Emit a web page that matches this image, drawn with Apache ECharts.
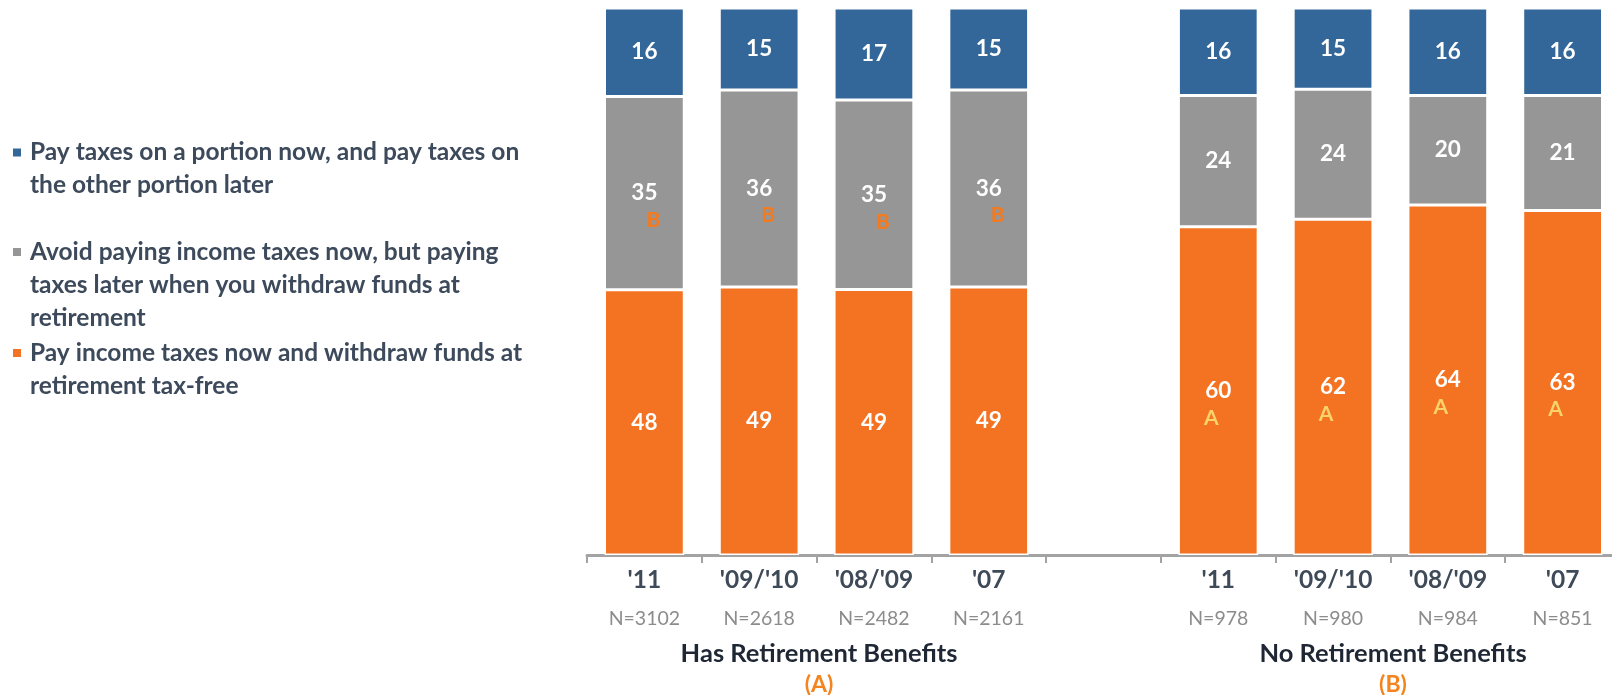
<!DOCTYPE html>
<html>
<head>
<meta charset="utf-8">
<script src="https://cdn.jsdelivr.net/npm/echarts@6/dist/echarts.min.js"></script>
<style>
  html, body { margin: 0; padding: 0; background: #fff; }
  #chart { width: 1612px; height: 695px; }
</style>
</head>
<body>
<div id="chart"></div>
<script>
// Survey years per group; the blank slot separates the two groups
const categories = ["'11", "'09/'10", "'08/'09", "'07", "", "'11", "'09/'10", "'08/'09", "'07"];
const sampleSizes = ['N=3102', 'N=2618', 'N=2482', 'N=2161', '', 'N=978', 'N=980', 'N=984', 'N=851'];
const groupTitles = ['Has Retirement Benefits', 'No Retirement Benefits'];
const groupTags = ['(A)', '(B)'];

const seriesNames = [
  'Pay income taxes now and withdraw funds at retirement tax-free',
  'Avoid paying income taxes now, but paying taxes later when you withdraw funds at retirement',
  'Pay taxes on a portion now, and pay taxes on the other portion later'
];
const legendLines = [
  ['Pay income taxes now and withdraw funds at', 'retirement tax-free'],
  ['Avoid paying income taxes now, but paying', 'taxes later when you withdraw funds at', 'retirement'],
  ['Pay taxes on a portion now, and pay taxes on', 'the other portion later']
];

// Percent of respondents choosing each option
const payNowValues = [48, 49, 49, 49, null, 60, 62, 64, 63];
const deferValues  = [35, 36, 35, 36, null, 24, 24, 20, 21];
const splitValues  = [16, 15, 17, 15, null, 16, 15, 16, 16];

// Significance letters (difference vs. the other group)
const payNowLetters = ['', '', '', '', '', 'A', 'A', 'A', 'A'];
const deferLetters  = ['B', 'B', 'B', 'B', '', '', '', '', ''];
const splitLetters  = ['', '', '', '', '', '', '', '', ''];

const FONT = 'Lato, "Open Sans", sans-serif';
const totals = categories.map((c, i) =>
  splitValues[i] == null ? null : payNowValues[i] + deferValues[i] + splitValues[i]);

function makeSeries(name, values, letters, color, letterColor, letterPad) {
  return {
    name: name,
    type: 'bar',
    stack: 'share',
    barWidth: '69.5%',
    itemStyle: { color: color, borderColor: '#ffffff', borderWidth: 1.5 },
    emphasis: { disabled: true },
    data: values.map((v, i) => v == null ? '-' : {
      value: v / totals[i] * 100,   // 100% stacked share
      raw: v,
      letter: letters[i],
      label: letters[i] ? { offset: [0, 14] } : undefined
    }),
    label: {
      show: true,
      position: 'inside',
      color: '#ffffff',
      textBorderWidth: 0,
      formatter: p => p.data.letter
        ? '{v|' + p.data.raw + '}\n{s|' + p.data.letter + '}'
        : '{v|' + p.data.raw + '}',
      rich: {
        v: { fontFamily: FONT, fontWeight: 'bold', fontSize: 22.5, color: '#ffffff', lineHeight: 26 },
        s: { fontFamily: FONT, fontWeight: 'bold', fontSize: 21, color: letterColor, lineHeight: 28, padding: letterPad }
      }
    }
  };
}

// Legend entries: each wrapped entry is padded with blank lines so that its
// first line sits level with the square marker.
const legendCenters = [156.5, 256, 357];
const LINE_H = 33;
const legendOrder = [2, 1, 0];               // top entry first
const legends = legendOrder.map((k, pos) => {
  const n = legendLines[k].length;
  return {
    data: [{ name: seriesNames[k] }],
    left: 11,
    top: legendCenters[pos] - (2 * n - 1) * LINE_H / 2,
    padding: 0,
    icon: 'rect',
    itemWidth: 10,
    itemHeight: 10,
    selectedMode: false,
    formatter: name => {
      const lines = legendLines[seriesNames.indexOf(name)];
      const blanks = new Array(lines.length - 1).fill('{t| }');
      return blanks.concat(lines.map(l => '{t|' + l + '}')).join('\n');
    },
    textStyle: {
      fontFamily: FONT, fontWeight: 'bold', fontSize: 24.5, color: '#3D4A5B',
      rich: {
        t: { fontFamily: FONT, fontWeight: 'bold', fontSize: 24.5, color: '#3D4A5B', lineHeight: LINE_H, padding: [0, 0, 0, 3] }
      }
    }
  };
});

const chart = echarts.init(document.getElementById('chart'), null, { renderer: 'canvas' });
chart.setOption({
  animation: false,
  backgroundColor: '#ffffff',
  legend: legends,
  grid: { left: 587, top: 8, width: 1033, height: 547, containLabel: false, outerBoundsMode: 'none' },
  xAxis: {
    type: 'category',
    data: categories,
    axisLine: { show: true, lineStyle: { color: '#A3A3A3', width: 3 } },
    axisTick: { show: true, interval: 0, length: 8, lineStyle: { color: '#A3A3A3', width: 2 } },
    axisLabel: {
      interval: 0,
      margin: 6,
      formatter: (v, i) => v ? '{c|' + v + '}\n{n|' + sampleSizes[i] + '}' : '',
      rich: {
        c: { fontFamily: FONT, fontWeight: 'bold', fontSize: 24.5, color: '#3F4A58', lineHeight: 38 },
        n: { fontFamily: FONT, fontSize: 19.5, color: '#8C8C8C', lineHeight: 40 }
      }
    }
  },
  yAxis: { type: 'value', min: 0, max: 100, show: false },
  series: [
    makeSeries(seriesNames[0], payNowValues, payNowLetters, '#F47322', '#FBD36B', [0, 14, 0, 0]),
    makeSeries(seriesNames[1], deferValues, deferLetters, '#969696', '#F47A20', [0, 0, 0, 18]),
    makeSeries(seriesNames[2], splitValues, splitLetters, '#336699', '#ffffff', 0)
  ],
  graphic: [0, 1].map(g => ({
    type: 'group',
    children: [
      {
        type: 'text', x: [819, 1393][g], y: 654,
        style: { text: groupTitles[g], font: 'bold 25.5px ' + FONT, fill: '#1E2733', align: 'center', verticalAlign: 'middle' }
      },
      {
        type: 'text', x: [819, 1393][g], y: 685,
        style: { text: groupTags[g], font: 'bold 23px ' + FONT, fill: '#F5841F', align: 'center', verticalAlign: 'middle' }
      }
    ]
  }))
});
</script>
</body>
</html>
